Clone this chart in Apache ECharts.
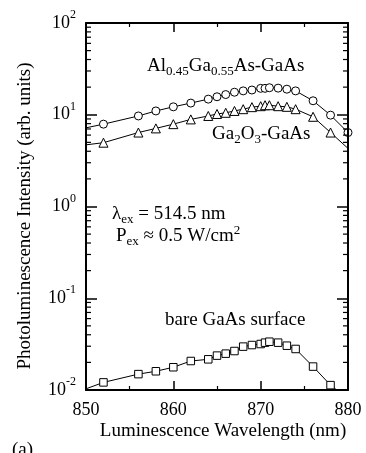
<!DOCTYPE html>
<html><head><meta charset="utf-8">
<script src="https://cdn.jsdelivr.net/npm/echarts@6/dist/echarts.min.js"></script>
<style>html,body{margin:0;padding:0;background:#fff}#c{width:366px;height:453px}</style>
</head><body><div id="c"></div>
<script>
// ---- data ----
const wavelengths = [850,852,856,858,860,862,864,865,866,867,868,869,870,870.5,871,872,873,874,876,878,880];
const alGaAsValues = [7.2,7.9,9.7,11.0,12.2,13.4,14.8,15.7,16.6,17.6,18.2,18.6,19.4,19.4,19.7,19.5,19.0,18.2,14.2,9.9,6.4];
const ga2o3Values = [4.7,4.96,6.4,7.1,7.9,8.9,9.7,10.2,10.5,11.0,11.5,12.1,12.4,12.7,12.7,12.4,12.2,11.5,9.5,6.4,4.3];
const bareValues = [0.0103,0.0121,0.0149,0.0160,0.0177,0.0207,0.0216,0.0237,0.0249,0.0266,0.0297,0.0309,0.0317,0.0328,0.0336,0.0328,0.0304,0.0280,0.0180,0.0113,0.008];
// points where the curve runs on but no marker is drawn
const alHidden = [0];
const ga2o3Hidden = [0, 20];
const bareHidden = [0, 20];
const xTicks = [850, 860, 870, 880];
const yDecades = [0.01, 0.1, 1, 10];
const yMinorMultipliers = [2,3,4,5,6,7,8,9];

const F = '"Liberation Serif", "Times New Roman", serif';
const X_MIN = xTicks[0], X_MAX = xTicks[xTicks.length-1];

function build(vals, hidden) {
  return wavelengths.map((w, i) => hidden.indexOf(i) >= 0
    ? {value: [w, vals[i]], symbolSize: 0}
    : [w, vals[i]]);
}
const minorTickVals = [];
yDecades.forEach(d => yMinorMultipliers.forEach(m => minorTickVals.push(d * m)));

const chart = echarts.init(document.getElementById('c'), null, {renderer: 'canvas'});
const axisLine = {show: true, onZero: false, lineStyle: {color: '#000', width: 2}};
const lineSeries = (name, data, symbol, size) => ({
  name, type: 'line', data, symbol, symbolSize: size,
  xAxisIndex: 0, yAxisIndex: 0,
  lineStyle: {color: '#000', width: 1},
  itemStyle: {color: '#fff', borderColor: '#000', borderWidth: 1},
  showSymbol: true, clip: true, animation: false, z: 3
});

chart.setOption({
  animation: false,
  backgroundColor: '#fff',
  grid: {left: 86, right: 18, top: 23, bottom: 63, containLabel: false, outerBoundsMode: 'none'},
  xAxis: [
    {type: 'value', min: X_MIN, max: X_MAX, interval: 10, position: 'bottom',
     axisLine, z: 10,
     axisTick: {inside: true, length: 9, lineStyle: {color: '#000', width: 1.5}},
     minorTick: {show: true, splitNumber: 2, length: 4, lineStyle: {color: '#000', width: 1.2}},
     axisLabel: {margin: 11, fontSize: 18, fontFamily: F, color: '#000'},
     splitLine: {show: false}, minorSplitLine: {show: false}},
    {type: 'value', min: X_MIN, max: X_MAX, interval: 10, position: 'top',
     axisLine, z: 10,
     axisTick: {inside: true, length: 9, lineStyle: {color: '#000', width: 1.5}},
     minorTick: {show: true, splitNumber: 2, length: 4, lineStyle: {color: '#000', width: 1.2}},
     axisLabel: {show: false}, splitLine: {show: false}}
  ],
  yAxis: [
    {type: 'log', logBase: 10, min: 0.01, max: 100, splitNumber: 4, position: 'left',
     axisLine, z: 10,
     axisTick: {inside: true, length: 11, lineStyle: {color: '#000', width: 1.5}},
     axisLabel: {
       margin: 10, color: '#000',
       formatter: v => '{b|10}{s|' + Math.round(Math.log10(v)) + '}',
       rich: {
         b: {fontSize: 18, fontFamily: F, color: '#000', lineHeight: 28},
         s: {fontSize: 12, fontFamily: F, color: '#000', lineHeight: 10, verticalAlign: 'top'}
       }
     },
     splitLine: {show: false}},
    {type: 'log', logBase: 10, min: 0.01, max: 100, splitNumber: 4, position: 'right',
     axisLine, z: 10,
     axisTick: {inside: true, length: 11, lineStyle: {color: '#000', width: 1.5}},
     axisLabel: {show: false}, splitLine: {show: false}}
  ],
  series: [
    lineSeries('Al0.45Ga0.55As-GaAs', build(alGaAsValues, alHidden), 'circle', 8),
    lineSeries('Ga2O3-GaAs', build(ga2o3Values, ga2o3Hidden), 'triangle', 9),
    lineSeries('bare GaAs surface', build(bareValues, bareHidden), 'rect', 7.5),
    {
      type: 'custom', xAxisIndex: 0, yAxisIndex: 0, silent: true, clip: false, z: 4,
      data: minorTickVals.map(v => [X_MIN, v]),
      renderItem: function (params, api) {
        const p = api.coord([X_MIN, api.value(1)]);
        const q = api.coord([X_MAX, api.value(1)]);
        const st = {stroke: '#000', lineWidth: 1.2};
        return {type: 'group', children: [
          {type: 'line', shape: {x1: p[0], y1: p[1], x2: p[0] + 5, y2: p[1]}, style: st},
          {type: 'line', shape: {x1: q[0] - 5, y1: q[1], x2: q[0], y2: q[1]}, style: st}
        ]};
      }
    }
  ],
  graphic: [
    {type: 'text', x: 25, y: 216, rotation: Math.PI / 2,
     style: {text: 'Photoluminescence Intensity (arb. units)', fontSize: 19, fontFamily: F, fill: '#000', align: 'center', verticalAlign: 'middle'}},
    {type: 'text', x: 223, y: 431,
     style: {text: 'Luminescence Wavelength (nm)', fontSize: 19, fontFamily: F, fill: '#000', align: 'center', verticalAlign: 'middle'}},
    {type: 'text', x: 12, y: 441,
     style: {text: '(a)', fontSize: 19, fontFamily: F, fill: '#000', align: 'left', verticalAlign: 'top'}},
    {type: 'text', x: 147, y: 54,
     style: {text: '{m|Al}{s|0.45}{m|Ga}{s|0.55}{m|As-GaAs}', align: 'left', verticalAlign: 'top',
       rich: {m: {fontSize: 19, fontFamily: F, fill: '#000', lineHeight: 24},
              s: {fontSize: 13, fontFamily: F, fill: '#000', lineHeight: 12, verticalAlign: 'bottom'}}}},
    {type: 'text', x: 212, y: 122,
     style: {text: '{m|Ga}{s|2}{m|O}{s|3}{m|-GaAs}', align: 'left', verticalAlign: 'top',
       rich: {m: {fontSize: 19, fontFamily: F, fill: '#000', lineHeight: 24},
              s: {fontSize: 13, fontFamily: F, fill: '#000', lineHeight: 12, verticalAlign: 'bottom'}}}},
    {type: 'text', x: 112, y: 202,
     style: {text: '{m|λ}{s|ex}{m| = 514.5 nm}', align: 'left', verticalAlign: 'top',
       rich: {m: {fontSize: 19, fontFamily: F, fill: '#000', lineHeight: 24},
              s: {fontSize: 13, fontFamily: F, fill: '#000', lineHeight: 12, verticalAlign: 'bottom'}}}},
    {type: 'text', x: 116, y: 224,
     style: {text: '{m|P}{s|ex}{m| ≈ 0.5 W/cm}{p|2}', align: 'left', verticalAlign: 'top',
       rich: {m: {fontSize: 19, fontFamily: F, fill: '#000', lineHeight: 24},
              s: {fontSize: 13, fontFamily: F, fill: '#000', lineHeight: 12, verticalAlign: 'bottom'},
              p: {fontSize: 13, fontFamily: F, fill: '#000', lineHeight: 16, verticalAlign: 'top'}}}},
    {type: 'text', x: 165, y: 320,
     style: {text: 'bare GaAs surface', fontSize: 19, fontFamily: F, fill: '#000', align: 'left', verticalAlign: 'middle'}}
  ]
});
</script></body></html>
